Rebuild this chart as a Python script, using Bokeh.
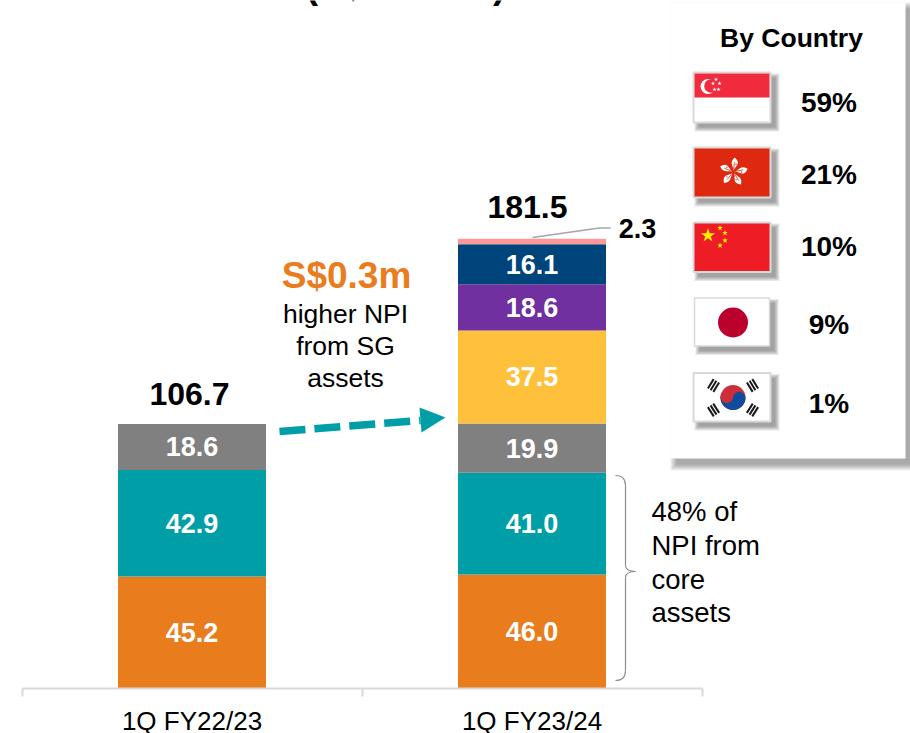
import math
from bokeh.plotting import figure
from bokeh.models import Range1d, LinearAxis, FixedTicker
from bokeh.core.properties import value
from bokeh.embed import file_html
from bokeh.resources import INLINE

categories = ["1Q FY22/23", "1Q FY23/24"]
s_orange = [45.2, 46.0]
s_teal = [42.9, 41.0]
s_grey = [18.6, 19.9]
s_yellow = [0, 37.5]
s_purple = [0, 18.6]
s_navy = [0, 16.1]
s_pink = [0, 2.3]
totals = [106.7, 181.5]
series = [(s_orange, "#E97D1E"), (s_teal, "#009EA6"), (s_grey, "#808080"),
          (s_yellow, "#FFC13B"), (s_purple, "#7030A0"), (s_navy, "#00447C"), (s_pink, "#FF9999")]
country_share = ["59%", "21%", "10%", "9%", "1%"]

FONT = value("Liberation Sans")
W, H = 910, 733
FH = 688
p = figure(width=W, frame_width=W, frame_height=FH, height=H, output_backend="svg", toolbar_location=None,
           x_range=Range1d((0 - 191.5) / 340, (910 - 191.5) / 340), y_range=Range1d(0, FH / 2.48),
           min_border_left=0, min_border_right=0, min_border_top=0, min_border_bottom=0,
           outline_line_color=None, background_fill_color="white")
p.grid.visible = False
p.xaxis.visible = False
p.yaxis.visible = False
p.extra_x_ranges["px"] = Range1d(1, 911)
p.extra_y_ranges["px"] = Range1d(FH, 0)
PX = dict(x_range_name="px", y_range_name="px")

axis = LinearAxis(ticker=FixedTicker(ticks=[0, 1], minor_ticks=[-0.5, 0.5, 1.5]), bounds=(-0.5, 1.5),
                  major_label_overrides={0: categories[0], 1: categories[1]},
                  major_tick_out=0, major_tick_in=0, minor_tick_out=8, minor_tick_in=0,
                  minor_tick_line_color="#d9d9d9", minor_tick_line_width=2,
                  axis_line_color="#d9d9d9", axis_line_width=2, major_label_standoff=9,
                  major_label_text_font="Liberation Sans", major_label_text_font_size="26px",
                  major_label_text_color="#000000")
p.add_layout(axis, "below")

# stacked bars
bottoms = [0.0, 0.0]
for vals, col in series:
    tops = [b + v for b, v in zip(bottoms, vals)]
    xs = [i for i, v in enumerate(vals) if v > 0]
    p.vbar(x=xs, width=148 / 340, bottom=[bottoms[i] for i in xs], top=[tops[i] for i in xs],
           fill_color=col, line_color=None)
    if col != "#FF9999":
        p.text(x=xs, y=[(bottoms[i] + tops[i]) / 2 for i in xs], text=[f"{vals[i]:.1f}" for i in xs],
               text_color="white", text_font=FONT, text_font_style="bold", text_font_size="27px",
               text_align="center", text_baseline="middle")
    bottoms = tops


def label(x, y, t, size, bold=False, color="#000000", align="center", baseline="middle"):
    p.text(x=[x], y=[y], text=[t], text_font=FONT, text_font_size=f"{size}px", text_color=color,
           text_font_style="bold" if bold else "normal", text_align=align, text_baseline=baseline, **PX)


label(406, -15, "(S$ million)", 37, True)
label(190, 393, f"{totals[0]:.1f}", 32, True)
label(528, 206, f"{totals[1]:.1f}", 32, True)
label(638, 228, f"{s_pink[1]:.1f}", 27, True)
p.line(x=[533, 600, 611], y=[237, 227.5, 227.5], line_color="#a6a6a6", line_width=1.5, **PX)

label(347, 275, "S$0.3m", 37, True, "#E97D1E")
for y, t in zip([313, 345, 377], ["higher NPI", "from SG", "assets"]):
    label(346, y, t, 26.5)
for y, t in zip([510.5, 544.5, 578.5, 611.5], ["48% of", "NPI from", "core", "assets"]):
    label(652, y, t, 27.5, align="left")

# dashed arrow
p.line(x=[280, 421], y=[431, 420], line_color="#009EA6", line_width=7.5, line_dash="26 9", **PX)
p.patch(x=[446, 420, 422], y=[417, 407, 432], fill_color="#009EA6", line_color=None, **PX)

# brace
BR = "#8c8c8c"
p.quadratic(x0=[616, 626], y0=[475, 670], x1=[626, 616], y1=[485, 680],
            cx=[626, 626], cy=[475, 680], line_color=BR, line_width=1.2, **PX)
p.segment(x0=[626, 626], y0=[485, 577], x1=[626, 626], y1=[565, 670], line_color=BR, line_width=1.2, **PX)
p.quadratic(x0=[626, 626], y0=[565, 577], x1=[636, 636], y1=[571, 571], cx=[626, 626], cy=[571, 571],
            line_color=BR, line_width=1.2, **PX)


def shadow(x0, y0, x1, y1, off=4, blur=4, alpha=0.14):
    for i in range(blur):
        g = blur - i - 1
        p.quad(left=[x0 + off - g], right=[x1 + off + g], top=[y0 + off - g], bottom=[y1 + off + g],
               fill_color="#404040", fill_alpha=alpha, line_color=None, **PX)


# country panel
shadow(671, 2, 906, 458, off=6, blur=7, alpha=0.08)
p.quad(left=[671], right=[906], top=[2], bottom=[458], fill_color="white", line_color=None, **PX)
label(792, 37.5, "By Country", 26.5, True)
for y, t in zip([102, 174, 246, 324, 403], country_share):
    label(829.5, y, t, 28, True)


def flag(y0, y1, col, x0=694, x1=771, bw=2):
    shadow(x0, y0, x1, y1, off=5, blur=5, alpha=0.12)
    p.quad(left=[x0], right=[x1], top=[y0], bottom=[y1], fill_color=col, line_color="#d9d9d9", line_width=bw, **PX)


def star(xs, ys, size, col):
    p.scatter(x=xs, y=ys, size=size, marker="star", fill_color=col, line_color=None, **PX)


# Singapore
flag(72, 122, "white")
p.quad(left=[695], right=[770], top=[73], bottom=[97], fill_color="#EF2B3D", line_color=None, **PX)
p.circle(x=[708.5], y=[86], radius=7.5, fill_color="white", line_color=None, **PX)
p.circle(x=[711.5], y=[85.5], radius=6.8, fill_color="#EF2B3D", line_color=None, **PX)
star([716.5, 713.5, 720, 715, 719], [79, 83, 83, 89, 89], 4.5, "white")

# Hong Kong
flag(147, 197, "#DE2910")
cx, cy = 734, 171.5
for k in range(5):
    a = math.radians(-85 + 72 * k)
    ux, uy = math.cos(a), math.sin(a)
    vx, vy = -uy, ux
    bx, by = cx + ux * 1.5, cy + uy * 1.5
    steps = [i / 10 for i in range(11)]
    side1 = [(bx + ux * 13 * t + vx * 3.6 * math.sin(math.pi * t ** 1.4),
              by + uy * 13 * t + vy * 3.6 * math.sin(math.pi * t ** 1.4)) for t in steps]
    side2 = [(bx + ux * 13 * t - vx * 2.6 * math.sin(math.pi * t ** 1.4),
              by + uy * 13 * t - vy * 2.6 * math.sin(math.pi * t ** 1.4)) for t in reversed(steps)]
    pts = side1 + side2
    p.patch(x=[q[0] for q in pts], y=[q[1] for q in pts], fill_color="white", line_color=None, **PX)
    p.line(x=[cx + ux * 3, cx + ux * 10], y=[cy + uy * 3, cy + uy * 10], line_color="#DE2910", line_width=0.8, **PX)
    p.circle(x=[cx + ux * 8 + vx * 1.8], y=[cy + uy * 8 + vy * 1.8], radius=0.7, fill_color="#DE2910", line_color=None, **PX)

# China
flag(222, 271.5, "#EE1C25")
star([708.5], [235], 15, "#FFF200")
star([720.5, 725.5, 725.5, 720.5], [227.5, 232.5, 240, 245], 6, "#FFF200")

# Japan
flag(297.5, 345.5, "white", x0=695, x1=770, bw=1.5)
p.circle(x=[733.5], y=[322], radius=15, fill_color="#BC002D", line_color=None, **PX)

# Korea
flag(372.5, 421, "white")
kx, ky = 733.5, 397
for dx, dy in [(-19.5, -12), (19.5, -12), (-19.5, 12.5), (19.5, 12.5)]:
    r = math.hypot(dx, dy)
    ux, uy = dx / r, dy / r
    vx, vy = -uy, ux
    for s in (-3.2, 0, 3.2):
        mx, my = kx + dx + ux * s, ky + dy + uy * s
        p.line(x=[mx - vx * 5.5, mx + vx * 5.5], y=[my - vy * 5.5, my + vy * 5.5],
               line_color="#1a1a1a", line_width=2, **PX)
R = 12.5
tilt = math.radians(5)
angs = [tilt + math.pi * i / 40 for i in range(41)]
p.circle(x=[kx], y=[ky], radius=R, fill_color="#CD2E3A", line_color=None, **PX)
p.patch(x=[kx + R * math.cos(a) for a in angs], y=[ky + R * math.sin(a) for a in angs],
        fill_color="#0F4D9C", line_color=None, **PX)
ex, ey = R / 2 * math.cos(tilt), R / 2 * math.sin(tilt)
p.circle(x=[kx - ex], y=[ky - ey], radius=R / 2, fill_color="#CD2E3A", line_color=None, **PX)
p.circle(x=[kx + ex], y=[ky + ey], radius=R / 2, fill_color="#0F4D9C", line_color=None, **PX)

open("out.html", "w").write(file_html(p, INLINE))
